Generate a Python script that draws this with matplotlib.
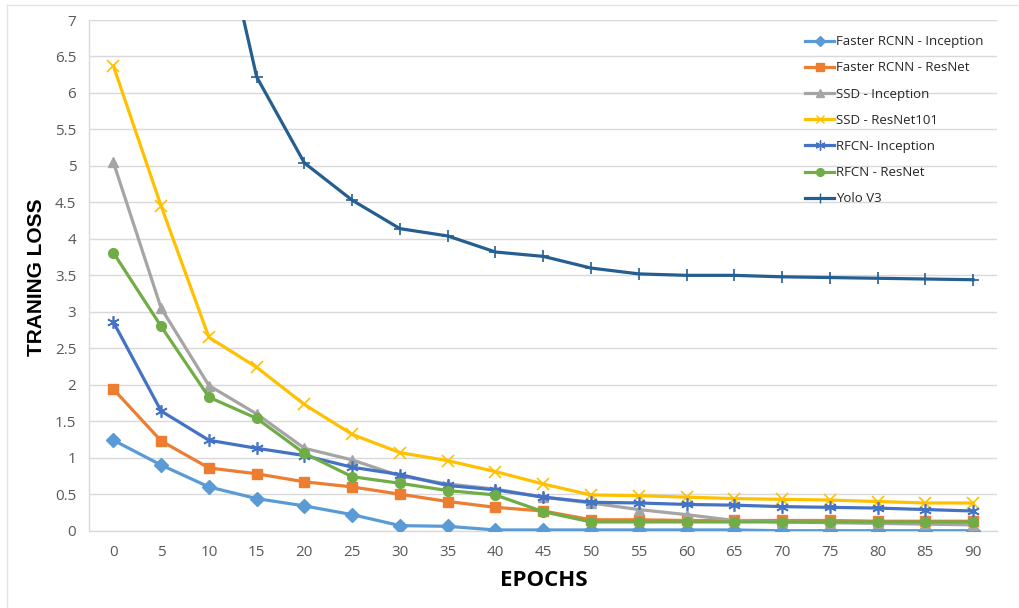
import matplotlib
matplotlib.use("Agg")
import matplotlib.pyplot as plt
from matplotlib.lines import Line2D

epochs = [0, 5, 10, 15, 20, 25, 30, 35, 40, 45, 50, 55, 60, 65, 70, 75, 80, 85, 90]

faster_rcnn_inception = [1.24, 0.90, 0.60, 0.44, 0.34, 0.22, 0.07, 0.06, 0.01, 0.01,
                         0.01, 0.01, 0.01, 0.01, 0.0, 0.0, 0.0, 0.0, 0.0]
faster_rcnn_resnet = [1.94, 1.23, 0.86, 0.78, 0.67, 0.60, 0.50, 0.40, 0.32, 0.27,
                      0.15, 0.15, 0.14, 0.14, 0.14, 0.14, 0.13, 0.13, 0.13]
ssd_inception = [5.05, 3.05, 1.99, 1.60, 1.13, 0.97, 0.75, 0.64, 0.57, 0.46,
                 0.38, 0.29, 0.22, 0.14, 0.12, 0.11, 0.10, 0.09, 0.08]
ssd_resnet101 = [6.37, 4.45, 2.65, 2.24, 1.73, 1.32, 1.07, 0.96, 0.81, 0.64,
                 0.49, 0.48, 0.46, 0.44, 0.43, 0.42, 0.40, 0.38, 0.38]
rfcn_inception = [2.86, 1.64, 1.24, 1.13, 1.03, 0.87, 0.77, 0.62, 0.56, 0.46,
                  0.39, 0.38, 0.36, 0.35, 0.33, 0.32, 0.31, 0.29, 0.27]
rfcn_resnet = [3.81, 2.80, 1.83, 1.54, 1.06, 0.74, 0.65, 0.55, 0.49, 0.26,
               0.12, 0.12, 0.12, 0.12, 0.12, 0.12, 0.12, 0.12, 0.12]
yolo_v3 = [15.0, 12.0, 9.1, 6.22, 5.04, 4.53, 4.14, 4.04, 3.82, 3.76,
           3.60, 3.52, 3.50, 3.50, 3.48, 3.47, 3.46, 3.45, 3.44]

series = [
    ("Faster RCNN - Inception", faster_rcnn_inception, "#5B9BD5", "D", 7),
    ("Faster RCNN - ResNet", faster_rcnn_resnet, "#ED7D31", "s", 7),
    ("SSD - Inception", ssd_inception, "#A5A5A5", "^", 7),
    ("SSD - ResNet101", ssd_resnet101, "#FFC000", "x", 8),
    ("RFCN- Inception", rfcn_inception, "#4472C4", (6, 2, 0), 9),
    ("RFCN - ResNet", rfcn_resnet, "#70AD47", "o", 7),
    ("Yolo V3", yolo_v3, "#255E91", "+", 9),
]

W, H = 1020, 608
fig = plt.figure(figsize=(W / 100, H / 100), dpi=100)
left, right, top, bottom = 89.5, 997.0, 20.0, 530.7
ax = fig.add_axes([left / W, 1 - bottom / H, (right - left) / W, (bottom - top) / H])

x = list(range(len(epochs)))
handles = []
for label, vals, color, marker, ms in series:
    thin = marker in ("x", "+") or isinstance(marker, tuple)
    ax.plot(x, vals, color=color, lw=2.3, marker=marker, markersize=ms,
            markerfacecolor=color, markeredgecolor=color,
            markeredgewidth=1.2 if thin else 1.0,
            solid_joinstyle="round", clip_on=True, zorder=3)
    handles.append(Line2D([0], [0], color=color, lw=2.3, marker=marker,
                          markersize=ms * 0.8, markerfacecolor=color,
                          markeredgecolor=color, markeredgewidth=1.0))

ax.set_xlim(-0.5, len(epochs) - 0.5)
ax.set_ylim(0, 7)
ax.set_yticks([i * 0.5 for i in range(15)])
ax.set_yticklabels(["0", "0.5", "1", "1.5", "2", "2.5", "3", "3.5", "4", "4.5",
                    "5", "5.5", "6", "6.5", "7"])
ax.set_xticks(x)
ax.set_xticklabels([str(e) for e in epochs])

ax.grid(axis="y", color="#D9D9D9", lw=1.0)
ax.set_axisbelow(True)
for side in ("top", "right"):
    ax.spines[side].set_visible(False)
for side in ("left", "bottom"):
    ax.spines[side].set_color("#D9D9D9")
    ax.spines[side].set_linewidth(1.0)
ax.tick_params(axis="both", length=0, labelsize=11, labelcolor="#595959")
ax.tick_params(axis="x", pad=10)
ax.tick_params(axis="y", pad=9.5)
for t in ax.get_xticklabels() + ax.get_yticklabels():
    t.set_fontfamily("Open Sans")

fig.text(37 / W, 1 - 277 / H, "TRANING LOSS", rotation=90, ha="center", va="center",
         fontsize=15, fontweight="bold", family="Liberation Sans", color="black")
fig.text(544 / W, 1 - 580 / H, "EPOCHS", ha="center", va="center",
         fontsize=16, fontweight="bold", family="Open Sans", color="black")

leg = ax.legend(handles, [s[0] for s in series], loc="upper left",
                bbox_to_anchor=((800 - left) / (right - left), 1 - (30 - top) / (bottom - top)),
                frameon=False, prop={"family": "Open Sans", "size": 9.5},
                handlelength=2.2, handletextpad=0.15, labelspacing=1.0,
                borderaxespad=0)
for t in leg.get_texts():
    t.set_color("#262626")

# chart-area frame lines
fig.add_artist(Line2D([7 / W, 7 / W], [0, 1 - 5 / H], color="#E3E3E3", lw=1.0))
fig.add_artist(Line2D([7 / W, 1], [1 - 5 / H, 1 - 5 / H], color="#E3E3E3", lw=1.0))

fig.savefig("out.png", dpi=100, facecolor="white")
